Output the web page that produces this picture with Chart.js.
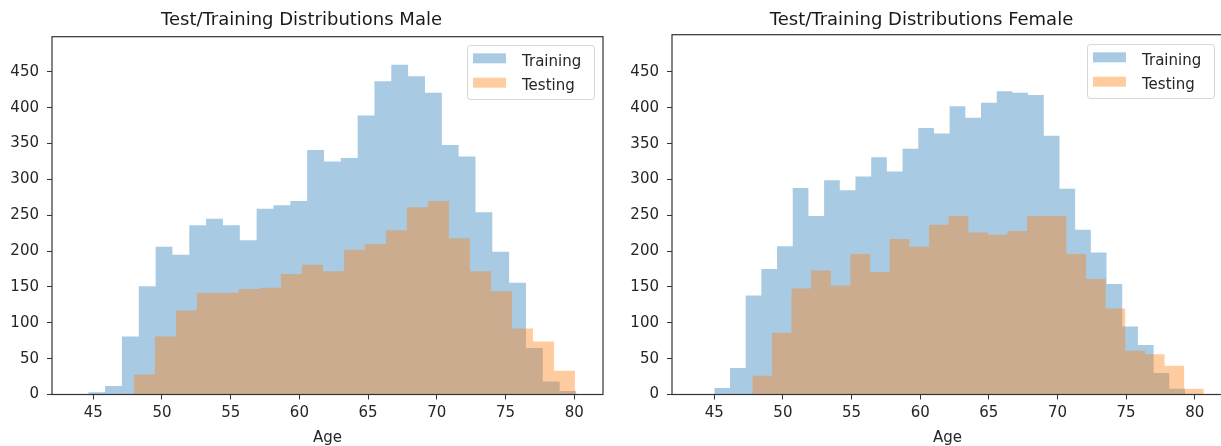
<!DOCTYPE html>
<html>
<head>
<meta charset="utf-8">
<title>Test/Training Distributions</title>
<script src="https://cdn.jsdelivr.net/npm/chart.js@4.4.1/dist/chart.umd.min.js"></script>
<style>
  html, body { margin: 0; padding: 0; background: #fff; overflow: hidden; }
  body { width: 1221px; height: 446px; position: relative; }
  canvas { position: absolute; top: 0; }
  #maleChart { left: 0; }
  #femaleChart { left: 620px; }
</style>
</head>
<body>
<canvas id="maleChart" width="655" height="446"></canvas>
<canvas id="femaleChart" width="655" height="446"></canvas>
<script>
// Age histograms: counts per bin, bins spread evenly over [lo, hi]
const maleTrainCounts = [3, 12, 81, 151, 206, 195, 236, 245, 236, 215, 259, 264, 270, 341, 325,
                         330, 389, 437, 460, 444, 421, 348, 332, 254, 199, 156, 65, 18, 5];
const maleTrainRange = [44.64, 80.16];
const maleTestCounts = [28, 81, 117, 142, 142, 147, 149, 168, 181, 172, 202, 210, 229, 261, 270,
                        218, 172, 144, 92, 74, 33];
const maleTestRange = [47.96, 80.05];

const femaleTrainCounts = [9, 37, 138, 175, 207, 288, 249, 299, 285, 304, 331, 311, 343, 372, 364,
                           402, 386, 407, 423, 421, 418, 361, 287, 230, 198, 154, 95, 69, 30, 8];
const femaleTrainRange = [45.0, 79.29];
const femaleTestCounts = [26, 86, 148, 173, 152, 196, 171, 217, 206, 237, 249, 226, 223, 228, 249,
                          249, 196, 161, 120, 61, 56, 40, 8];
const femaleTestRange = [47.77, 80.66];

const ageTicks = [45, 50, 55, 60, 65, 70, 75, 80];
const countTicks = [0, 50, 100, 150, 200, 250, 300, 350, 400, 450];

const trainingFill = 'rgba(31, 119, 180, 0.39)';
const testingFill = 'rgba(255, 127, 14, 0.4)';

Chart.defaults.font.family = '"DejaVu Sans", sans-serif';
Chart.defaults.font.size = 15;
Chart.defaults.color = '#262626';

// turn bin counts into step points: each bin holds its count until the next edge
function histPoints(counts, range) {
    const [lo, hi] = range;
    const w = (hi - lo) / counts.length;
    const pts = counts.map((c, i) => ({ x: lo + i * w, y: c }));
    pts.push({ x: hi, y: 0 });
    return pts;
}

// box around the plot area, like axes spines
const axesFrame = {
    id: 'axesFrame',
    afterDatasetsDraw(chart) {
        const { ctx, chartArea: a } = chart;
        ctx.save();
        ctx.strokeStyle = '#333';
        ctx.lineWidth = 1.2;
        ctx.strokeRect(a.left, a.top, a.right - a.left, a.bottom - a.top);
        ctx.restore();
    }
};

// legend drawn inside the plot, upper right
const boxLegend = {
    id: 'boxLegend',
    afterDraw(chart, args, opts) {
        const { ctx, chartArea } = chart;
        const items = chart.data.datasets.slice().reverse(); // Training first
        const x = chartArea.right - opts.right - opts.width;
        const y = chartArea.top + opts.top;
        ctx.save();
        ctx.beginPath();
        ctx.roundRect(x + 0.5, y + 0.5, opts.width, opts.height, 3);
        ctx.fillStyle = 'rgba(255, 255, 255, 0.8)';
        ctx.fill();
        ctx.strokeStyle = 'rgba(204, 204, 204, 0.8)';
        ctx.lineWidth = 1;
        ctx.stroke();
        ctx.font = '15px "DejaVu Sans"';
        ctx.textBaseline = 'alphabetic';
        items.forEach((ds, i) => {
            const rowY = y + 13.3 + i * 24.4;
            ctx.fillStyle = ds.backgroundColor;
            ctx.fillRect(x + 6, rowY - 5, 33, 10);
            ctx.fillStyle = '#262626';
            ctx.fillText(ds.label, x + 55, rowY + 7.5);
        });
        ctx.restore();
    }
};

function makeHist(canvasId, title, trainCounts, trainRange, testCounts, testRange, view) {
    return new Chart(document.getElementById(canvasId), {
        type: 'line',
        data: {
            // testing listed first so it is painted over training
            datasets: [
                {
                    label: 'Testing',
                    data: histPoints(testCounts, testRange),
                    backgroundColor: testingFill,
                    fill: 'origin',
                    stepped: true,
                    borderWidth: 0,
                    pointRadius: 0
                },
                {
                    label: 'Training',
                    data: histPoints(trainCounts, trainRange),
                    backgroundColor: trainingFill,
                    fill: 'origin',
                    stepped: true,
                    borderWidth: 0,
                    pointRadius: 0
                }
            ]
        },
        options: {
            responsive: false,
            animation: false,
            events: [],
            layout: { padding: { left: 0, right: 52, top: 0, bottom: 0 } },
            plugins: {
                legend: { display: false },
                tooltip: { enabled: false },
                title: {
                    display: true,
                    text: title,
                    color: '#1a1a1a',
                    font: { size: 18, weight: 'normal' },
                    padding: { top: 9.7, bottom: view.titleGap }
                },
                boxLegend: { right: 9, top: view.legendTop, width: 127, height: 54 }
            },
            scales: {
                x: {
                    type: 'linear',
                    min: view.xMin,
                    max: view.xMax,
                    afterBuildTicks: axis => { axis.ticks = ageTicks.map(v => ({ value: v })); },
                    afterFit: axis => { axis.height = 51.5; },
                    ticks: { padding: 5, maxRotation: 0 },
                    grid: { drawOnChartArea: false, drawTicks: true, tickLength: 5, tickColor: '#333', tickWidth: 1 },
                    border: { display: false },
                    title: { display: true, text: 'Age', font: { size: 15, lineHeight: 1 }, padding: 0 }
                },
                y: {
                    min: 0,
                    max: view.yMax,
                    afterBuildTicks: axis => { axis.ticks = countTicks.map(v => ({ value: v })); },
                    afterFit: axis => { axis.width = 52; },
                    ticks: { padding: 8 },
                    grid: { drawOnChartArea: false, drawTicks: true, tickLength: 5, tickColor: '#333', tickWidth: 1 },
                    border: { display: false }
                }
            }
        },
        plugins: [axesFrame, boxLegend]
    });
}

makeHist('maleChart', 'Test/Training Distributions Male',
    maleTrainCounts, maleTrainRange, maleTestCounts, maleTestRange,
    { xMin: 42.0, xMax: 82.09, yMax: 499, titleGap: 5.4, legendTop: 8.3 });

makeHist('femaleChart', 'Test/Training Distributions Female',
    femaleTrainCounts, femaleTrainRange, femaleTestCounts, femaleTestRange,
    { xMin: 41.92, xMax: 82.06, yMax: 502, titleGap: 3.4, legendTop: 9.3 });
</script>
</body>
</html>
